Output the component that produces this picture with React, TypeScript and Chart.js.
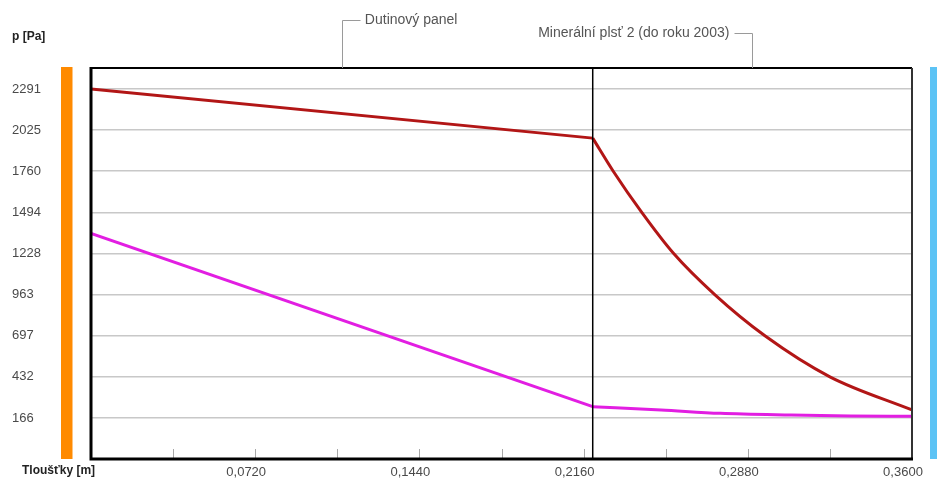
import React, { useEffect, useRef } from 'react';
import { Chart, registerables } from 'chart.js';

Chart.register(...registerables);

// ---- data ----
const layerBounds = [0, 0.22, 0.36];
const layerNames = ['Dutinový panel', 'Minerální plsť 2 (do roku 2003)'];

// layer 1 (linear section)
const x1 = [0, 0.22];
const pSat1 = [2291, 1974];
const p1 = [1359, 239];

// layer 2
const x2Sat = [0.22, 0.229, 0.2415, 0.2555, 0.2735, 0.2955, 0.324, 0.36];
const pSat2 = [1974, 1760, 1494, 1228, 963, 697, 432, 218];
const x2 = [0.22, 0.25, 0.276, 0.307, 0.333, 0.36];
const p2 = [239, 218, 196, 185, 179, 177];

const yTicks = [166, 432, 697, 963, 1228, 1494, 1760, 2025, 2291];
const xLabelTicks = [0.072, 0.144, 0.216, 0.288, 0.36];
const xLabels = ['0,0720', '0,1440', '0,2160', '0,2880', '0,3600'];
const xMarks = [0.036, 0.072, 0.108, 0.144, 0.18, 0.216, 0.252, 0.288, 0.324];
const yMin = -99;
const yMax = 2427;

const RED = '#b21616';
const MAGENTA = '#e21ee2';
const FONT = '"Liberation Sans", Arial, sans-serif';

const toPts = (xs: number[], ys: number[]) => xs.map((x, i) => ({ x, y: ys[i] }));

const decor = {
  id: 'decor',
  beforeDraw(chart: any) {
    const { ctx, width, height } = chart;
    ctx.save();
    ctx.fillStyle = '#ffffff';
    ctx.fillRect(0, 0, width, height);
    ctx.restore();
  },
  afterDatasetsDraw(chart: any) {
    const { ctx, chartArea: a, scales } = chart;
    const x = scales.x;
    ctx.save();
    // side bars
    ctx.fillStyle = '#ff8a00';
    ctx.fillRect(61, a.top - 1, 11.5, a.bottom - a.top + 1);
    ctx.fillStyle = '#5cc3f5';
    ctx.fillRect(930, a.top - 1, 10, a.bottom - a.top + 1);

    // minor marks at bottom
    ctx.strokeStyle = '#a8a8a8';
    ctx.lineWidth = 1;
    ctx.beginPath();
    xMarks.forEach((v) => {
      const px = Math.round(x.getPixelForValue(v)) + 0.5;
      ctx.moveTo(px, a.bottom - 10);
      ctx.lineTo(px, a.bottom);
    });
    ctx.stroke();

    // layer dividers
    ctx.strokeStyle = '#000';
    ctx.lineWidth = 1.5;
    ctx.beginPath();
    layerBounds.slice(1, -1).forEach((v) => {
      const px = x.getPixelForValue(v);
      ctx.moveTo(px, a.top);
      ctx.lineTo(px, a.bottom);
    });
    ctx.stroke();

    // border
    ctx.strokeStyle = '#000';
    ctx.lineWidth = 2;
    ctx.beginPath();
    ctx.moveTo(a.left, a.top);
    ctx.lineTo(a.right, a.top);
    ctx.stroke();
    ctx.strokeStyle = '#333';
    ctx.beginPath();
    ctx.moveTo(a.right, a.top);
    ctx.lineTo(a.right, a.bottom);
    ctx.stroke();
    ctx.strokeStyle = '#000';
    ctx.lineWidth = 3;
    ctx.beginPath();
    ctx.moveTo(a.left, a.top - 1);
    ctx.lineTo(a.left, a.bottom);
    ctx.lineTo(a.right + 1, a.bottom);
    ctx.stroke();

    // layer annotations
    ctx.font = `14px ${FONT}`;
    ctx.textBaseline = 'middle';
    layerNames.forEach((name, i) => {
      const cx = x.getPixelForValue((layerBounds[i] + layerBounds[i + 1]) / 2);
      const ly = i % 2 === 0 ? 20.5 : 33.5;
      const dir = i % 2 === 0 ? 1 : -1;
      ctx.strokeStyle = '#9a9a9a';
      ctx.lineWidth = 1;
      ctx.beginPath();
      ctx.moveTo(Math.round(cx) + 0.5, a.top);
      ctx.lineTo(Math.round(cx) + 0.5, ly);
      ctx.lineTo(Math.round(cx) + 0.5 + dir * 18, ly);
      ctx.stroke();
      ctx.fillStyle = '#555';
      ctx.textAlign = dir > 0 ? 'left' : 'right';
      ctx.fillText(name, cx + dir * 23, ly);
    });

    // axis titles
    ctx.fillStyle = '#222';
    ctx.font = `bold 12px ${FONT}`;
    ctx.textAlign = 'left';
    ctx.fillText('p [Pa]', 12, 37);
    ctx.fillText('Tloušťky [m]', 22, 471);
    ctx.restore();
  },
};

export default function App() {
  const ref = useRef<HTMLCanvasElement | null>(null);
  useEffect(() => {
    if (!ref.current) return;
    const chart = new Chart(ref.current, {
      type: 'line',
      data: {
        datasets: [
          { data: toPts(x1, pSat1), borderColor: RED, borderWidth: 3, pointRadius: 0, tension: 0 },
          {
            data: toPts(x2Sat, pSat2),
            borderColor: RED,
            borderWidth: 3,
            pointRadius: 0,
            cubicInterpolationMode: 'monotone',
          },
          { data: toPts(x1, p1), borderColor: MAGENTA, borderWidth: 3, pointRadius: 0, tension: 0 },
          {
            data: toPts(x2, p2),
            borderColor: MAGENTA,
            borderWidth: 3,
            pointRadius: 0,
            cubicInterpolationMode: 'monotone',
          },
        ],
      } as any,
      options: {
        animation: false,
        responsive: false,
        layout: { padding: { left: 12, top: 68, right: 25, bottom: 0 } },
        plugins: { legend: { display: false }, tooltip: { enabled: false } },
        scales: {
          x: {
            type: 'linear',
            min: 0,
            max: 0.36,
            grid: { display: false, drawTicks: false },
            border: { display: false },
            afterBuildTicks: (s: any) => {
              s.ticks = xLabelTicks.map((v) => ({ value: v }));
            },
            afterFit: (s: any) => {
              s.height = 21;
              s.paddingLeft = 0;
              s.paddingRight = 0;
            },
            ticks: {
              autoSkip: false,
              maxRotation: 0,
              padding: 6,
              labelOffset: -9,
              color: '#4a4a4a',
              font: { size: 13, family: FONT },
              callback: (v: any) => {
                const i = xLabelTicks.findIndex((t) => Math.abs(t - Number(v)) < 1e-9);
                return i >= 0 ? xLabels[i] : '';
              },
            },
          },
          y: {
            type: 'linear',
            min: yMin,
            max: yMax,
            grid: { color: '#c8c8c8', lineWidth: 1.5, drawTicks: false },
            border: { display: false },
            afterBuildTicks: (s: any) => {
              s.ticks = yTicks.map((v) => ({ value: v }));
            },
            afterFit: (s: any) => {
              s.width = 79;
              s.paddingTop = 0;
              s.paddingBottom = 0;
            },
            ticks: {
              autoSkip: false,
              crossAlign: 'far',
              padding: 0,
              color: '#4a4a4a',
              font: { size: 13, family: FONT },
              callback: (v: any) => String(v),
            },
          },
        },
      } as any,
      plugins: [decor],
    });
    return () => chart.destroy();
  }, []);
  return (
    <div style={{ position: 'absolute', left: 0, top: 0, width: 937, height: 480 }}>
      <canvas ref={ref} width={937} height={480} style={{ display: 'block' }} />
    </div>
  );
}
